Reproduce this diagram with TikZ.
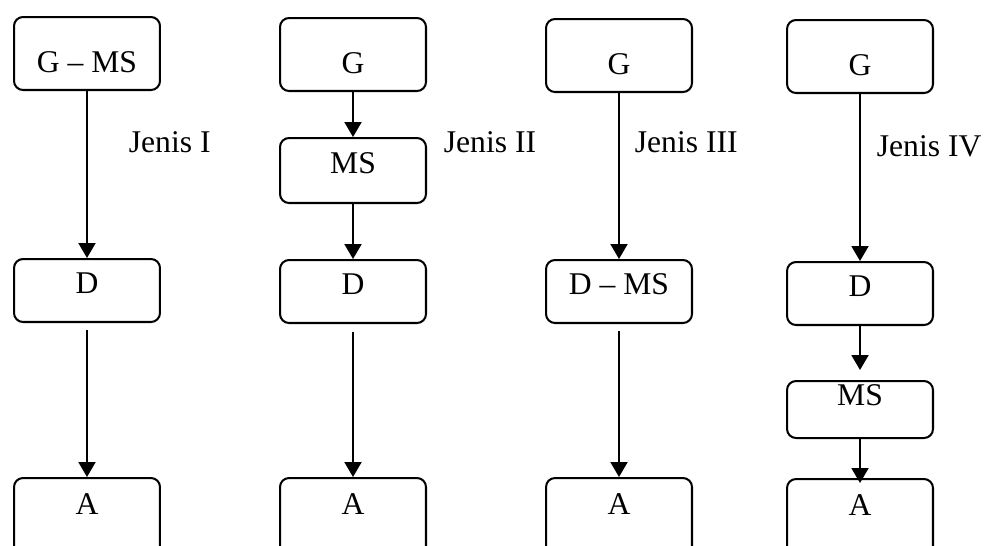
\documentclass[tikz,border=0pt]{standalone}
\usepackage{fontspec}
\setmainfont{Liberation Serif}
\usetikzlibrary{arrows.meta}

\begin{document}
\begin{tikzpicture} [-{Triangle[width=0.34cm, length=0.3cm]}, line width = 1.15pt, x = 0.02cm, y = -0.02cm,
  font = \fontsize{18}{21}\selectfont,
  box/.style = {draw, rounded corners = 0.18cm, minimum width = 2.92cm, inner sep = 0pt, anchor = north},
  topbox/.style = {box, text height = 1.1cm, text depth = 0.36cm},
  midbox/.style = {box, text height = 0.68cm, text depth = 0.58cm},
  endbox/.style = {box, text height = 0.72cm, text depth = 1.4cm}]

\useasboundingbox (0,0) rectangle (989,545);

% Jenis I
\node [topbox] (gms1) at (87,16) {G -- MS};
\node [midbox] (d1) at (87,258) {D};
\node [endbox] (a1) at (87,477) {A};

% Jenis II
\node [topbox] (g2) at (353,17) {G};
\node [box, text height = 0.7cm, text depth = 0.6cm] (ms2) at (353,137) {MS};
\node [midbox] (d2) at (353,259) {D};
\node [endbox] (a2) at (353,477) {A};

% Jenis III
\node [topbox] (g3) at (619,18) {G};
\node [midbox] (dms3) at (619,259) {D -- MS};
\node [endbox] (a3) at (619,477) {A};

% Jenis IV
\node [topbox] (g4) at (860,19) {G};
\node [midbox] (d4) at (860,261) {D};
\node [box, text height = 0.48cm, text depth = 0.66cm] (ms4) at (860,380) {MS};
\node [endbox] (a4) at (860,478) {A};

\path (gms1) edge (d1);
\path (d1) edge [shorten <= 0.14cm] (a1);

\path (g2) edge (ms2);
\path (ms2) edge (d2);
\path (d2) edge [shorten <= 0.16cm] (a2);

\path (g3) edge (dms3);
\path (dms3) edge [shorten <= 0.14cm] (a3);

\path (g4) edge (d4);
\path (d4) edge [shorten >= 0.2cm] (ms4);
\path (ms4) edge [shorten >= -0.1cm] (a4);

\node [anchor = base west] (jenis1) at (122,152) {Jenis I};
\node [anchor = base west] (jenis2) at (437,152) {Jenis II};
\node [anchor = base west] (jenis3) at (628,152) {Jenis III};
\node [anchor = base west] (jenis4) at (870,156) {Jenis IV};

\end{tikzpicture}
\end{document}
